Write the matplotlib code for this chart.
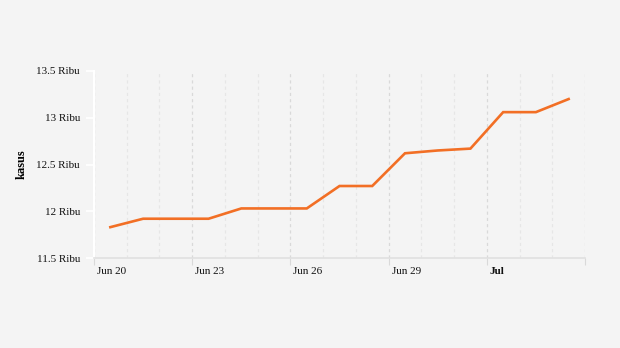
import matplotlib
matplotlib.use("Agg")
import matplotlib.pyplot as plt
from matplotlib.transforms import ScaledTranslation

# data kasus harian (ribu)
tanggal = ["Jun 20", "Jun 21", "Jun 22", "Jun 23", "Jun 24", "Jun 25", "Jun 26", "Jun 27",
           "Jun 28", "Jun 29", "Jun 30", "Jul 1", "Jul 2", "Jul 3", "Jul 4"]
kasus = [11.83, 11.92, 11.92, 11.92, 12.03, 12.03, 12.03, 12.27,
         12.27, 12.62, 12.65, 12.67, 13.06, 13.06, 13.20]
x_labels = ["Jun 20", "Jun 23", "Jun 26", "Jun 29", "Jul"]
y_ticks = [11.5, 12, 12.5, 13, 13.5]
y_labels = ["11.5 Ribu", "12 Ribu", "12.5 Ribu", "13 Ribu", "13.5 Ribu"]

plt.rcParams['font.family'] = ['Liberation Serif', 'DejaVu Serif']
bg = '#f4f4f4'

fig = plt.figure(figsize=(6.2, 3.48), dpi=100, facecolor=bg)
ax = fig.add_axes([94 / 620, 90 / 348, 491 / 620, 187 / 348], facecolor=bg)

n = len(tanggal)
xs = [i + 0.5 for i in range(n)]
ax.plot(xs, kasus, color='#f26f25', linewidth=1.9, solid_joinstyle='miter', zorder=3)

# grid: minor tiap hari, major tiap 3 hari
major = list(range(0, n + 1, 3))
minor = [i for i in range(n + 1) if i % 3 != 0]
for m in minor:
    ax.axvline(m, color='#e6e6e6', linewidth=0.9, linestyle=(0, (2.5, 2.5)), zorder=1)
for m in major:
    ax.axvline(m, color='#d9d9d9', linewidth=0.9, linestyle=(0, (2.5, 2.5)), zorder=1)

ax.set_xlim(0, n)
ax.set_ylim(11.5, 13.5)
ax.set_xticks(major)
ax.set_xticklabels([])
# label tanggal digeser sedikit ke kanan dari tick
offset = ScaledTranslation(3 / 100, -9.5 / 100, fig.dpi_scale_trans)
for pos, txt in zip(major, x_labels):
    ax.text(pos, 0, txt, transform=ax.get_xaxis_transform() + offset,
            ha='left', va='top', fontsize=8, color='#111111',
            fontweight='bold' if txt == "Jul" else 'normal')
ax.set_yticks(y_ticks)
ax.set_yticklabels(y_labels, fontsize=8)

ax.tick_params(axis='x', length=5, color='#d9d9d9')
ax.tick_params(axis='y', length=6, color='white', width=1.2, pad=4, labelcolor='#111111')

for s in ['top', 'right']:
    ax.spines[s].set_visible(False)
ax.spines['left'].set_color('white')
ax.spines['left'].set_linewidth(1.5)
ax.spines['left'].set_zorder(2)
ax.spines['bottom'].set_color('#e0e0e0')
ax.spines['bottom'].set_linewidth(1.2)

ax.set_ylabel('kasus', fontsize=9, fontweight='bold')
ax.yaxis.set_label_coords(-0.135, 0.5)

fig.savefig('out.png', dpi=100, facecolor=bg)
